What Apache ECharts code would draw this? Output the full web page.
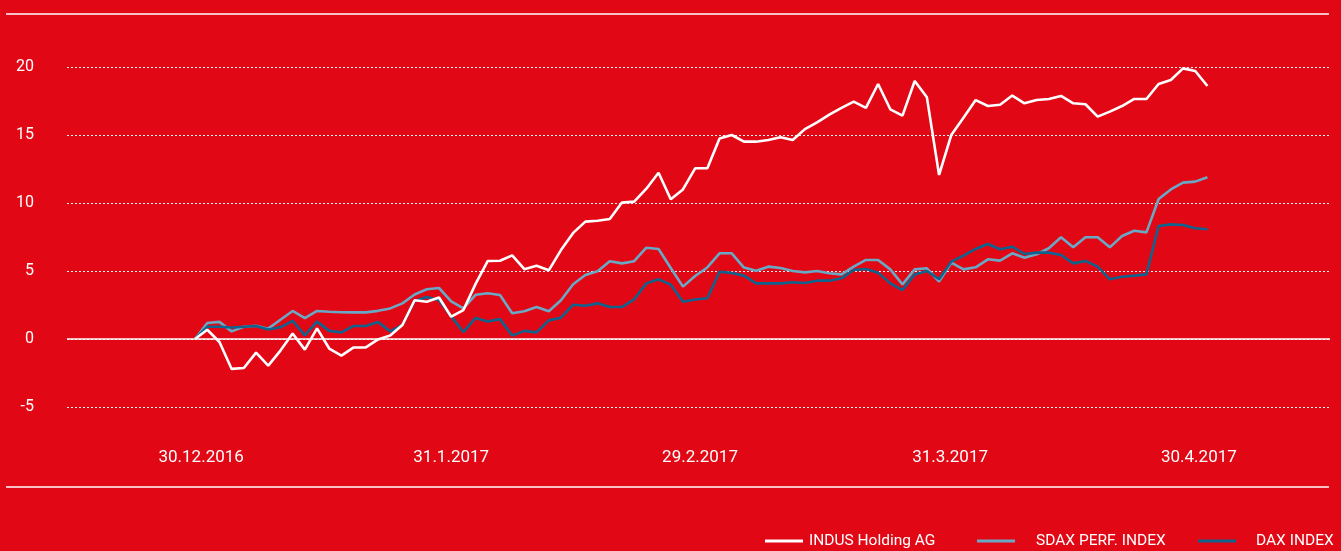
<!DOCTYPE html>
<html>
<head>
<meta charset="utf-8">
<script src="https://cdn.jsdelivr.net/npm/echarts@6/dist/echarts.min.js"></script>
<style>
html,body{margin:0;padding:0;background:#e20714;}
#chart{width:1341px;height:551px;}
</style>
</head>
<body>
<div id="chart"></div>
<script>
// Tick labels (x axis) and their positions in trading-day index units
const xTickLabels = ['30.12.2016', '31.1.2017', '29.2.2017', '31.3.2017', '30.4.2017'];
const xTickIndex = [0.5, 21, 41.4, 61.9, 82.3];

// Series names
const seriesNames = ['INDUS Holding AG', 'SDAX PERF. INDEX', 'DAX INDEX'];

// Performance in % (one value per trading day)
const indus = [0, 0.68, -0.22, -2.2, -2.13, -1.0, -1.96, -0.85, 0.4, -0.78,
  0.78, -0.7, -1.22, -0.62, -0.62, -0.03, 0.25, 1.03, 2.85, 2.74,
  3.05, 1.64, 2.13, 4.05, 5.74, 5.75, 6.15, 5.13, 5.38, 5.05,
  6.54, 7.8, 8.63, 8.7, 8.82, 10.03, 10.1, 11.05, 12.23, 10.27,
  11.0, 12.55, 12.55, 14.75, 15.0, 14.51, 14.51, 14.63, 14.83, 14.63,
  15.43, 15.93, 16.5, 17.0, 17.45, 17.0, 18.75, 16.89, 16.42, 18.97,
  17.77, 12.06, 15.0, 16.27, 17.57, 17.13, 17.23, 17.9, 17.33, 17.57,
  17.65, 17.87, 17.33, 17.26, 16.35, 16.72, 17.13, 17.65, 17.65, 18.75,
  19.04, 19.9, 19.71, 18.6];

const sdax = [0, 1.18, 1.26, 0.56, 0.9, 0.98, 0.76, 1.42, 2.06, 1.54,
  2.06, 2.0, 1.97, 1.96, 1.96, 2.07, 2.25, 2.62, 3.27, 3.66,
  3.75, 2.77, 2.25, 3.25, 3.36, 3.24, 1.89, 2.04, 2.35, 2.04,
  2.85, 4.02, 4.71, 4.99, 5.72, 5.56, 5.72, 6.71, 6.62, 5.22,
  3.85, 4.63, 5.26, 6.3, 6.3, 5.25, 5.02, 5.32, 5.22, 5.0,
  4.9, 5.0, 4.83, 4.75, 5.32, 5.81, 5.81, 5.12, 4.02, 5.12,
  5.2, 4.22, 5.61, 5.12, 5.27, 5.86, 5.76, 6.3, 5.98, 6.23,
  6.67, 7.48, 6.74, 7.48, 7.48, 6.74, 7.57, 7.96, 7.84, 10.29,
  11.0, 11.5, 11.57, 11.89];

const dax = [0, 0.9, 0.9, 0.85, 0.9, 0.96, 0.7, 0.86, 1.34, 0.27,
  1.28, 0.6, 0.49, 0.96, 0.96, 1.25, 0.56, 1.03, 2.8, 3.08,
  2.85, 1.66, 0.51, 1.55, 1.28, 1.46, 0.25, 0.6, 0.49, 1.37,
  1.57, 2.52, 2.44, 2.62, 2.35, 2.35, 2.92, 4.09, 4.39, 4.0,
  2.74, 2.9, 3.0, 4.95, 4.86, 4.66, 4.09, 4.1, 4.09, 4.17,
  4.12, 4.29, 4.29, 4.46, 5.07, 5.15, 4.88, 4.09, 3.6, 4.75,
  5.0, 4.39, 5.69, 6.13, 6.62, 6.99, 6.6, 6.79, 6.25, 6.35,
  6.35, 6.18, 5.56, 5.74, 5.32, 4.39, 4.58, 4.66, 4.75, 8.31,
  8.43, 8.38, 8.14, 8.07];

const FONT = "Roboto, 'Noto Sans', sans-serif";
const colors = { indus: '#ffffff', sdax: '#6aa9c6', dax: '#0e648e' };

const toPairs = arr => arr.map((v, i) => [i, v]);

const chart = echarts.init(document.getElementById('chart'), null, { renderer: 'canvas' });

const legendText = (pad) => ({ color: '#ffffff', fontSize: 15.5, fontFamily: FONT, padding: [0, 0, 0, pad] });
const legendBase = {
  top: 528,
  orient: 'horizontal',
  icon: 'rect',
  itemWidth: 38,
  itemHeight: 3,
  selectedMode: false
};

chart.setOption({
  backgroundColor: '#e20714',
  animation: false,
  grid: { left: 67, right: 11, top: 67, bottom: 144, containLabel: false },
  xAxis: {
    type: 'value',
    min: -10.5,
    max: 93.05,
    axisLine: { show: false },
    axisTick: { show: false },
    splitLine: { show: false },
    axisLabel: {
      customValues: xTickIndex,
      color: '#ffffff',
      fontSize: 17,
      fontFamily: FONT,
      margin: 42,
      formatter: function (v) {
        let best = 0, d = Infinity;
        xTickIndex.forEach((t, k) => { if (Math.abs(t - v) < d) { d = Math.abs(t - v); best = k; } });
        return xTickLabels[best];
      }
    }
  },
  yAxis: {
    type: 'value',
    min: -5,
    max: 20,
    interval: 5,
    axisLine: { show: false },
    axisTick: { show: false },
    axisLabel: { color: '#ffffff', fontSize: 16, fontFamily: FONT, margin: 33 },
    splitLine: { show: true, lineStyle: { color: 'rgba(255,255,255,0.95)', type: [2, 2], width: 1 } }
  },
  legend: [
    Object.assign({}, legendBase, { left: 760, data: [seriesNames[0]], textStyle: legendText(1) }),
    Object.assign({}, legendBase, { left: 972, data: [seriesNames[1]], textStyle: legendText(16) }),
    Object.assign({}, legendBase, { left: 1193, data: [seriesNames[2]], textStyle: legendText(15) })
  ],
  graphic: [
    { type: 'line', shape: { x1: 6, y1: 14, x2: 1329, y2: 14 }, style: { stroke: '#ffffff', lineWidth: 1.5 }, silent: true },
    { type: 'line', shape: { x1: 6, y1: 487, x2: 1329, y2: 487 }, style: { stroke: '#ffffff', lineWidth: 1.5 }, silent: true }
  ],
  series: [
    {
      name: seriesNames[1], type: 'line', data: toPairs(sdax), symbol: 'none',
      lineStyle: { color: colors.sdax, width: 2.6 }, itemStyle: { color: colors.sdax },
      markLine: {
        silent: true, symbol: ['none', 'none'], label: { show: false },
        lineStyle: { color: '#ffffff', type: 'solid', width: 1.5 },
        data: [{ yAxis: 0 }]
      }
    },
    {
      name: seriesNames[2], type: 'line', data: toPairs(dax), symbol: 'none',
      lineStyle: { color: colors.dax, width: 2.6 }, itemStyle: { color: colors.dax }
    },
    {
      name: seriesNames[0], type: 'line', data: toPairs(indus), symbol: 'none',
      lineStyle: { color: colors.indus, width: 2.6 }, itemStyle: { color: colors.indus }
    }
  ]
});
</script>
</body>
</html>
